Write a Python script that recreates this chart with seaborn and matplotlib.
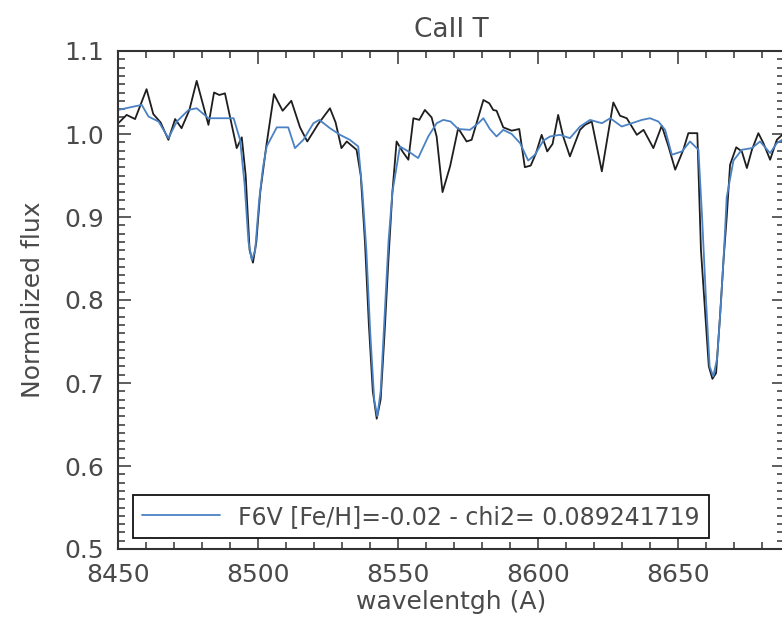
import matplotlib
matplotlib.use("Agg")
import matplotlib.pyplot as plt
from matplotlib.ticker import MultipleLocator
import seaborn as sns
import pandas as pd

# Observed spectrum (black)
obs_wl = [8450.1, 8453.1, 8456.1, 8460.2, 8462.6, 8465.2, 8468.0, 8470.4, 8472.7, 8475.5,
          8478.1, 8482.3, 8484.3, 8486.2, 8488.2, 8492.4, 8494.2, 8495.6, 8497.0, 8498.2,
          8499.4, 8500.8, 8502.9, 8505.7, 8508.8, 8511.9, 8515.0, 8517.6, 8521.5, 8525.7,
          8527.7, 8529.8, 8531.7, 8535.2, 8536.7, 8538.2, 8539.6, 8541.0, 8542.4, 8543.8,
          8545.2, 8546.6, 8548.0, 8549.5, 8551.6, 8553.7, 8555.5, 8557.6, 8559.6, 8562.0,
          8563.8, 8565.9, 8568.6, 8571.5, 8574.5, 8576.3, 8580.5, 8582.6, 8584.0, 8585.2,
          8587.6, 8590.6, 8593.3, 8595.3, 8597.4, 8599.3, 8601.3, 8603.3, 8605.2, 8607.2,
          8609.0, 8611.4, 8615.0, 8616.8, 8619.2, 8622.8, 8626.9, 8629.3, 8631.7, 8635.3,
          8637.7, 8641.2, 8644.2, 8646.6, 8649.0, 8651.9, 8653.7, 8656.9, 8658.2, 8659.6,
          8661.0, 8662.3, 8663.6, 8665.0, 8666.3, 8667.4, 8668.6, 8670.8, 8672.8, 8674.6,
          8676.4, 8678.7, 8680.5, 8682.9, 8685.3, 8687.2, 8689.5]
obs_flux = [1.013, 1.023, 1.018, 1.054, 1.024, 1.014, 0.993, 1.018, 1.007, 1.029,
            1.064, 1.011, 1.050, 1.047, 1.049, 0.983, 0.996, 0.950, 0.860, 0.845,
            0.870, 0.930, 0.984, 1.048, 1.028, 1.040, 1.008, 0.991, 1.012, 1.031,
            1.014, 0.983, 0.991, 0.981, 0.950, 0.870, 0.770, 0.690, 0.657, 0.680,
            0.760, 0.850, 0.930, 0.991, 0.979, 0.969, 1.019, 1.017, 1.029, 1.020,
            0.997, 0.930, 0.961, 1.007, 0.991, 0.993, 1.041, 1.037, 1.029, 1.028,
            1.008, 1.004, 1.006, 0.960, 0.962, 0.977, 0.999, 0.979, 0.988, 1.023,
            0.997, 0.973, 1.005, 1.011, 1.015, 0.955, 1.038, 1.022, 1.019, 0.999,
            1.005, 0.983, 1.010, 0.985, 0.957, 0.981, 1.001, 1.001, 0.860, 0.790,
            0.720, 0.705, 0.712, 0.780, 0.850, 0.900, 0.963, 0.984, 0.979, 0.959,
            0.981, 1.001, 0.989, 0.969, 0.993, 0.999, 0.995]

# Model spectrum (blue)
mod_wl = [8450.1, 8455.5, 8458.5, 8460.9, 8464.5, 8468.0, 8471.0, 8475.2, 8478.1, 8482.3,
          8486.5, 8491.3, 8493.6, 8495.2, 8496.6, 8497.8, 8499.0, 8500.4, 8501.8, 8503.1,
          8506.7, 8510.8, 8513.2, 8516.2, 8519.8, 8521.9, 8525.7, 8529.3, 8532.8, 8535.8,
          8537.3, 8538.7, 8540.1, 8541.5, 8542.6, 8543.8, 8545.2, 8546.6, 8548.0, 8550.7,
          8553.7, 8557.2, 8560.8, 8563.8, 8566.2, 8568.8, 8571.5, 8575.7, 8578.7, 8580.5,
          8582.8, 8585.2, 8587.6, 8590.6, 8593.6, 8596.5, 8598.9, 8601.9, 8604.3, 8607.8,
          8611.4, 8615.0, 8618.6, 8622.8, 8625.8, 8629.9, 8633.5, 8637.1, 8640.0, 8643.0,
          8645.4, 8647.8, 8651.4, 8654.3, 8657.3, 8658.6, 8660.0, 8661.3, 8662.6, 8664.0,
          8665.4, 8666.6, 8667.4, 8669.8, 8672.8, 8676.4, 8679.3, 8682.9, 8685.3, 8687.2,
          8689.5]
mod_flux = [1.029, 1.033, 1.035, 1.021, 1.015, 0.995, 1.015, 1.029, 1.031, 1.019,
            1.019, 1.019, 0.993, 0.940, 0.870, 0.848, 0.860, 0.920, 0.960, 0.985,
            1.008, 1.008, 0.983, 0.993, 1.013, 1.017, 1.007, 0.999, 0.993, 0.985,
            0.930, 0.860, 0.760, 0.680, 0.660, 0.690, 0.780, 0.870, 0.930, 0.985,
            0.979, 0.971, 0.997, 1.013, 1.017, 1.015, 1.006, 1.005, 1.013, 1.019,
            1.006, 0.997, 1.005, 1.000, 0.989, 0.968, 0.975, 0.992, 0.997, 0.999,
            0.995, 1.009, 1.017, 1.013, 1.019, 1.009, 1.013, 1.017, 1.019, 1.015,
            1.005, 0.975, 0.979, 0.991, 0.981, 0.900, 0.800, 0.720, 0.708, 0.730,
            0.800, 0.870, 0.924, 0.968, 0.981, 0.983, 0.991, 0.977, 0.989, 0.993,
            0.990]

title = "CaII T"
xlabel = "wavelentgh (A)"
ylabel = "Normalized flux"
model_label = "F6V [Fe/H]=-0.02 - chi2= 0.089241719"
x_ticks = [8450, 8500, 8550, 8600, 8650]
y_ticks = [0.5, 0.6, 0.7, 0.8, 0.9, 1.0, 1.1]

sns.set_style("ticks")
plt.rcParams['font.family'] = ['DejaVu Sans']

obs_df = pd.DataFrame({"wl": obs_wl, "flux": obs_flux})
mod_df = pd.DataFrame({"wl": mod_wl, "flux": mod_flux})

W, H = 782, 631
fig = plt.figure(figsize=(W / 100, H / 100), dpi=100)
left, right, bottom, top = 118, 784, 549, 51
ax = fig.add_axes([left / W, 1 - bottom / H, (right - left) / W, (bottom - top) / H])

sns.lineplot(data=obs_df, x="wl", y="flux", ax=ax, color="#1e1e1e", lw=1.3,
             sort=False, estimator=None, label="_nolegend_")
sns.lineplot(data=mod_df, x="wl", y="flux", ax=ax, color="#4a82c4", lw=1.3,
             sort=False, estimator=None, label=model_label)

ax.set_xlim(8450, 8450 + (right - left) / 2.8)
ax.set_ylim(0.5, 1.1)
ax.set_xticks(x_ticks)
ax.set_yticks(y_ticks)
ax.set_xticklabels([str(t) for t in x_ticks])
ax.set_yticklabels([f"{t:.1f}" for t in y_ticks])
ax.xaxis.set_minor_locator(MultipleLocator(10))
ax.yaxis.set_minor_locator(MultipleLocator(0.01))

tc = "#4a4a4a"
ax.tick_params(which="both", direction="in", top=True, right=True, color="#333333",
               width=1.1)
ax.tick_params(which="major", length=9, labelsize=18, labelcolor=tc, pad=10)
ax.tick_params(which="minor", length=5)
for s in ax.spines.values():
    s.set_color("#333333")
    s.set_linewidth(1.5)

ax.set_title(title, fontsize=19, color=tc, pad=10)
ax.set_xlabel(xlabel, fontsize=18, color=tc, labelpad=2)
ax.set_ylabel(ylabel, fontsize=18, color=tc, labelpad=14)

leg = ax.legend(loc="lower left", bbox_to_anchor=(0.0225, 0.022), borderaxespad=0,
                fontsize=17, frameon=True, fancybox=False, framealpha=1,
                edgecolor="#111111", handlelength=3.3, handletextpad=0.75,
                borderpad=0.4, labelcolor=tc)
leg.get_frame().set_linewidth(1.3)

fig.savefig("out.png", dpi=100)
